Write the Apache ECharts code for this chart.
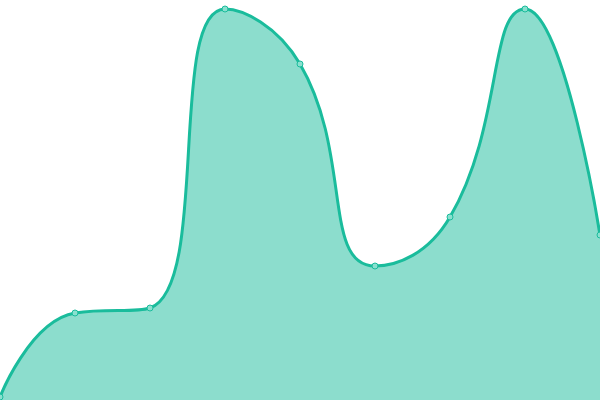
<!DOCTYPE html>
<html>
<head>
<meta charset="utf-8">
<script src="https://cdn.jsdelivr.net/npm/echarts@6/dist/echarts.min.js"></script>
<style>
  html, body { margin: 0; padding: 0; background: #fff; }
  #main { width: 600px; height: 400px; }
</style>
</head>
<body>
<div id="main"></div>
<script>
// 数据
var categories = ['1', '2', '3', '4', '5', '6', '7', '8', '9'];
var values = [3, 87, 92, 391, 336, 134, 183, 391, 165];

var myChart = echarts.init(document.getElementById('main'));
var option = {
    animation: false,
    grid: { left: 0, right: 0, top: 0, bottom: 0 },
    xAxis: {
        type: 'category',
        boundaryGap: false,
        data: categories,
        show: false
    },
    yAxis: {
        type: 'value',
        min: 0,
        max: 400,
        show: false
    },
    series: [{
        type: 'line',
        data: values,
        smooth: true,
        symbol: 'circle',
        symbolSize: 6,
        itemStyle: {
            color: '#8ae0cf',
            borderColor: '#1abc9c',
            borderWidth: 1
        },
        lineStyle: { color: '#1abc9c', width: 3 },
        areaStyle: { color: '#1abc9c', opacity: 0.5 }
    }]
};
myChart.setOption(option);
</script>
</body>
</html>
